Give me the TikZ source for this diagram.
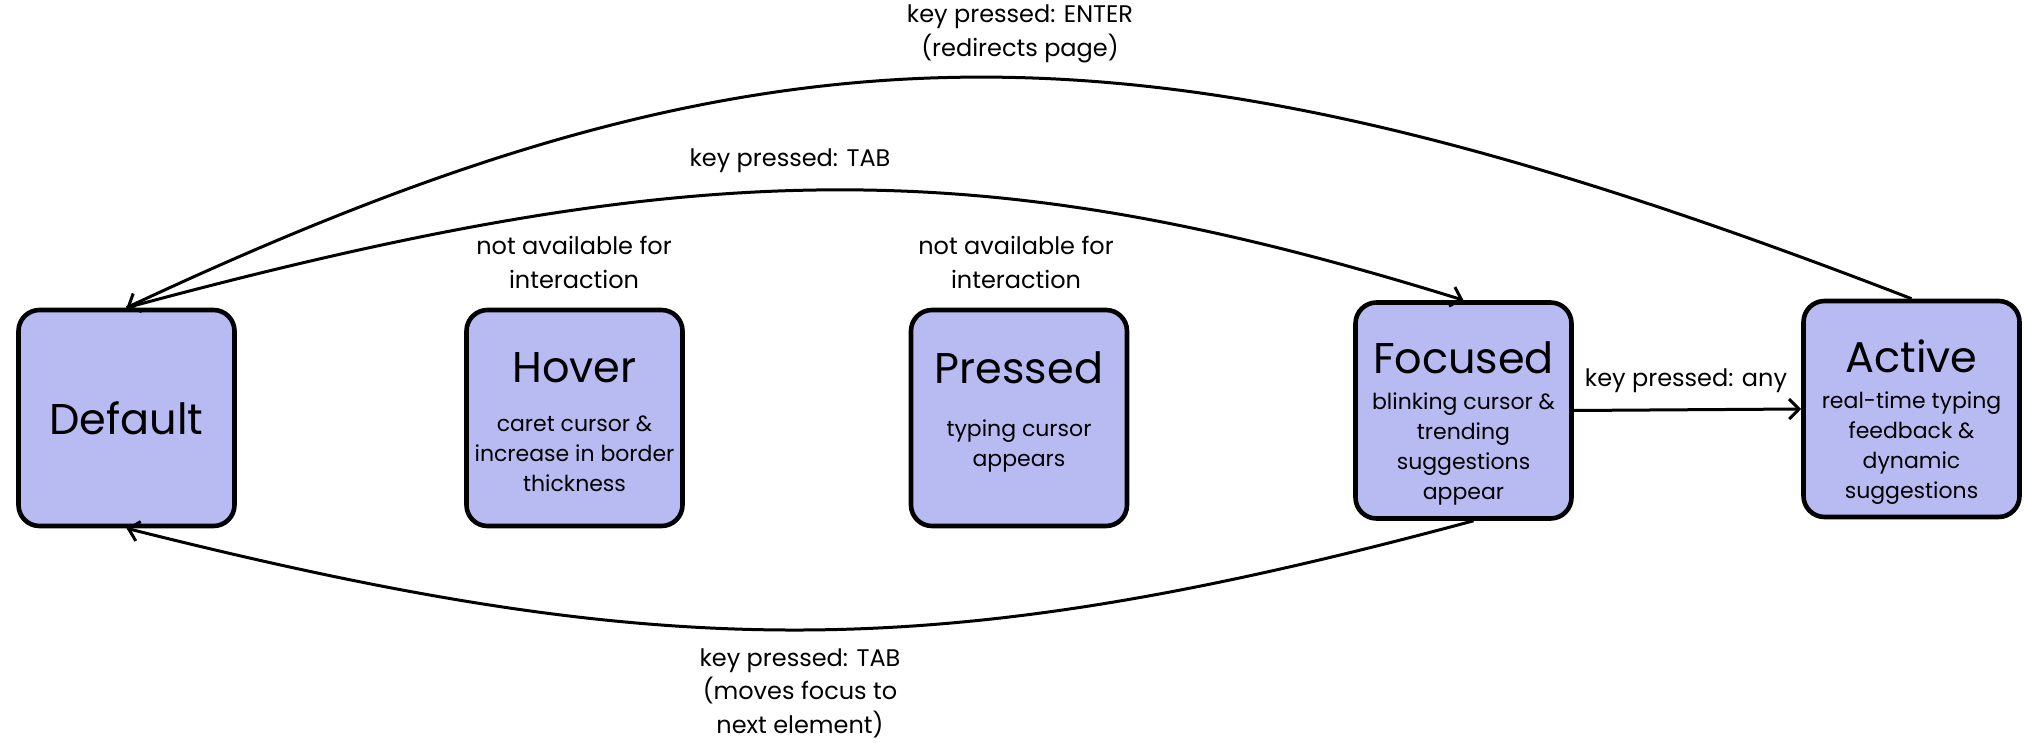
\documentclass[tikz,border=0pt]{standalone}
\usepackage{fontspec}
\setmainfont{Poppins}
\usetikzlibrary{arrows.meta}
\definecolor{statefill}{RGB}{184,187,242}
\begin{document}
\begin{tikzpicture}[x=0.5pt,y=-0.5pt]
		\tikzset{state/.style={draw,line width=2.3pt,fill=statefill,rounded corners=10.5pt,minimum width=108pt,minimum height=108pt,inner sep=0pt},
			title/.style={font=\fontsize{21.5}{26}\selectfont},
			body/.style={font=\fontsize{11}{15}\selectfont,align=center},
			lbl/.style={font=\fontsize{12}{16.8}\selectfont,align=center},
			arr/.style={line width=1.5pt,-{Straight Barb[length=5pt,width=10pt]}}}
		\useasboundingbox (0,0) rectangle (2024,743);
		\node[state,title] (def) at (126.5,418) {Default};
		\node[state] (hov) at (574.5,418) {};
		\node[title] (hovt) at (574.5,368) {Hover};
		\node[body] (hovb) at (574.5,453.5) {caret cursor \&\\increase in border\\thickness};
		\node[state] (pre) at (1019,418) {};
		\node[title] (pret) at (1019,368) {Pressed};
		\node[body] (preb) at (1019,446) {typing cursor\\appears};
		\node[state] (foc) at (1463.5,410.5) {};
		\node[title] (foct) at (1463.5,357.6) {Focused};
		\node[body] (focb) at (1463.5,448.5) {blinking cursor \&\\trending\\suggestions\\appear};
		\node[state] (act) at (1911.5,409) {};
		\node[title] (actt) at (1911.5,356) {Active};
		\node[body] (actb) at (1911.5,448.5) {real-time typing\\feedback \&\\dynamic\\suggestions};
		\node[lbl] (nahov) at (574,262.5) {not available for\\interaction};
		\node[lbl] (napre) at (1016,262.5) {not available for\\interaction};
		\node[lbl] (enter) at (1020,34) {key pressed: ENTER\\(redirects page)};
		\node[lbl] (tabtop) at (790,161) {key pressed: TAB};
		\node[lbl] (anykey) at (1686,381) {key pressed: any};
		\node[lbl] (tabbot) at (800,693) {key pressed: TAB\\(moves focus to\\next element)};
		\draw[arr] (act.north) .. controls (1144,2) and (779,2) .. (def.north);
		\draw[arr] (def.north) .. controls (702,152) and (986,152) .. (foc.north);
		\draw[arr] (foc.east) -- (act.west);
		\draw[arr] ([xshift=5pt]foc.south) .. controls (938,665) and (670,665) .. (def.south);
	\end{tikzpicture}
\end{document}
